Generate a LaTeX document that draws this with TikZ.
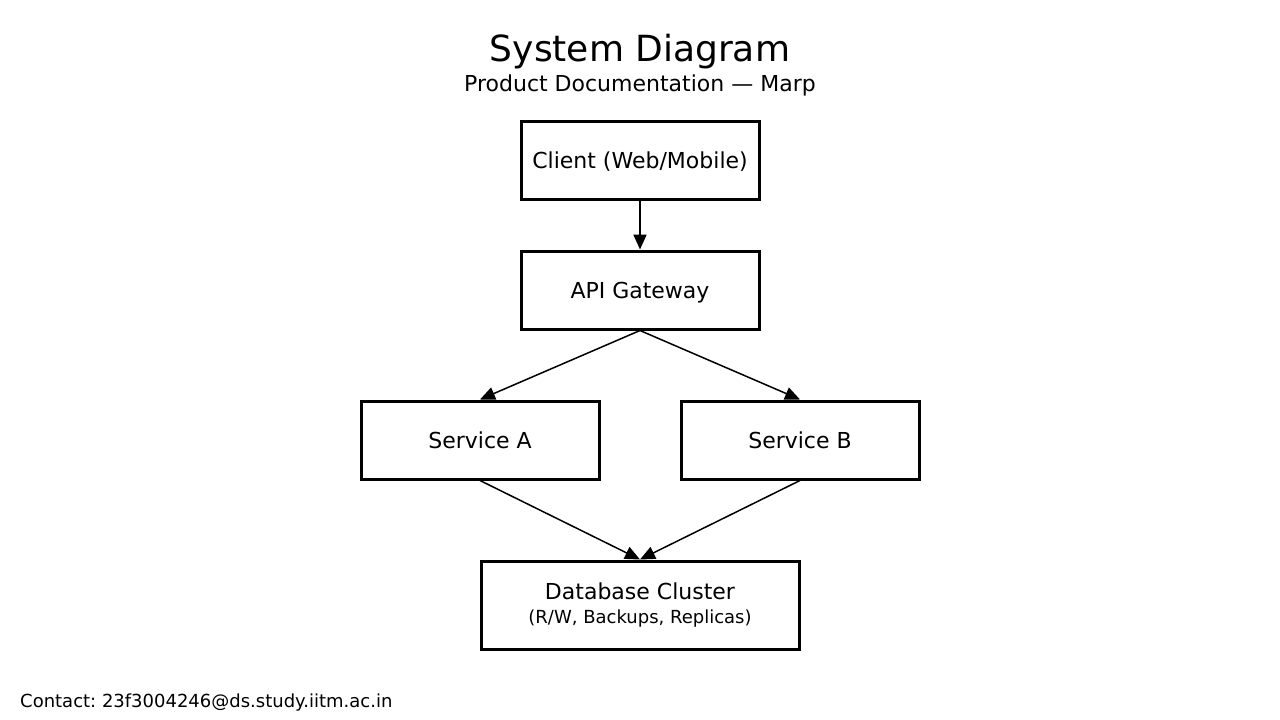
\documentclass[tikz,border=0pt]{standalone}
\usepackage{fontspec}
\setmainfont{DejaVu Sans}
\usetikzlibrary{positioning,arrows.meta}
\frenchspacing

\tikzset{
	block/.style={draw, line width=3pt, minimum width=238pt, minimum height=78pt, inner sep=0pt, font=\fontsize{22}{26}\selectfont},
	single/.style={block, text height=17pt, text depth=0pt},
	link/.style={line width=1.5pt, -{Triangle[length=15pt,width=13pt]}},
}

\begin{document}
\begin{tikzpicture}[x=1pt,y=-1pt]
		\useasboundingbox (0,0) rectangle (1280,720);
		\node (title) at (640,52) {\fontsize{36}{40}\selectfont System Diagram};
		\node (subtitle) at (640,85) {\fontsize{22}{26}\selectfont Product Documentation — Marp};
		%
		\node[single] (client) at (640,160) {Client (Web/Mobile)};
		\node[single] (gateway) at (640,290) {API Gateway};
		\node[single] (svcA) at (480,440) {Service A};
		\node[single] (svcB) at (800,440) {Service B};
		\node[block, minimum width=318pt, minimum height=88pt, align=center] (db) at (640,605)
			{Database Cluster\\[-2pt]{\fontsize{18}{22}\selectfont (R/W, Backups, Replicas)}};
		%
		\draw[link, line width=2.2pt] (client.south) -- (gateway.north);
		\draw[link] (gateway.south) -- (svcA.north);
		\draw[link] (gateway.south) -- (svcB.north);
		\draw[link] (svcA.south) -- (db.north);
		\draw[link] (svcB.south) -- (db.north);
		%
		\node[anchor=west, inner sep=0pt] (contact) at (20,703) {\fontsize{18}{22}\selectfont Contact: 23f3004246@ds.study.iitm.ac.in};
	\end{tikzpicture}
\end{document}
